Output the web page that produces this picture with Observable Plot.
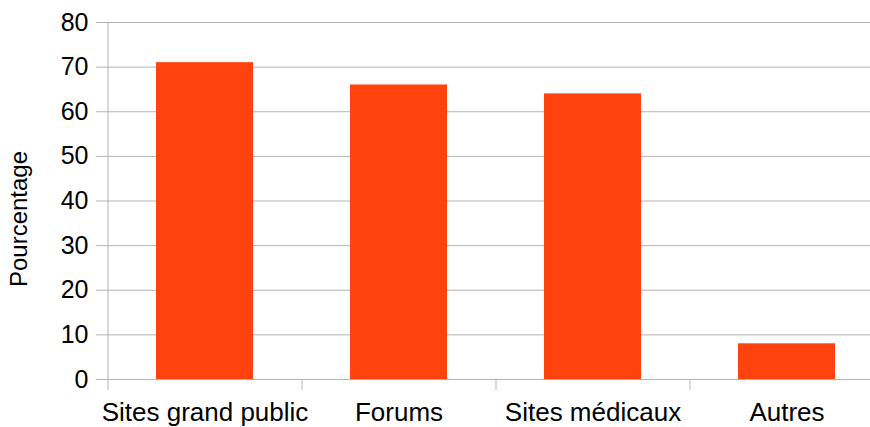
<!DOCTYPE html>
<html>
<head>
<meta charset="utf-8">
<script src="https://cdn.jsdelivr.net/npm/d3@7"></script>
<script src="https://cdn.jsdelivr.net/npm/@observablehq/plot@0.6"></script>
<style>
  html, body { margin: 0; padding: 0; background: #fff; overflow: hidden; }
  svg { display: block; }
</style>
</head>
<body>
<div id="chart"></div>
<script>
const categories = ["Sites grand public", "Forums", "Sites médicaux", "Autres"];
const values = [71, 66, 64, 8];
const yTicks = [0, 10, 20, 30, 40, 50, 60, 70, 80];
const yLabel = "Pourcentage";

const data = categories.map((c, i) => ({category: c, value: values[i]}));
const gridColor = "#b3b3b3";
const barColor = "#ff420e";

const xRange = [107, 883];
const step = (xRange[1] - xRange[0]) / categories.length;

const chart = Plot.plot({
  width: 870,
  height: 427,
  marginTop: 22,
  marginBottom: 48,
  marginLeft: 96,
  marginRight: 0,
  style: {fontFamily: "'Liberation Sans', Arial, sans-serif", fontSize: "25px", color: "#000", background: "#fff"},
  x: {domain: categories, range: xRange, paddingInner: 0.5, paddingOuter: 0.25, label: null},
  y: {domain: [0, 80], label: null},
  marks: [
    Plot.ruleY(yTicks, {stroke: gridColor, strokeWidth: 1}),
    Plot.ruleX(categories, {
      x: d => d,
      dx: -step / 2,
      y1: (d, i) => i === 0 ? 80 : 0,
      y2: 0,
      insetBottom: -11,
      stroke: gridColor,
      strokeWidth: 1
    }),
    Plot.barY(data, {x: "category", y: "value", fill: barColor}),
    Plot.axisX({tickSize: 0, tickPadding: 23, fontSize: 26}),
    Plot.axisY({ticks: yTicks, tickSize: 0, tickPadding: 8, fontSize: 25}),
    Plot.text([yLabel], {frameAnchor: "left", text: d => d, rotate: -90, dx: -77, dy: 18, fontSize: 24, lineAnchor: "middle", textAnchor: "middle", fill: "#000"})
  ]
});
document.getElementById("chart").appendChild(chart);
</script>
</body>
</html>
